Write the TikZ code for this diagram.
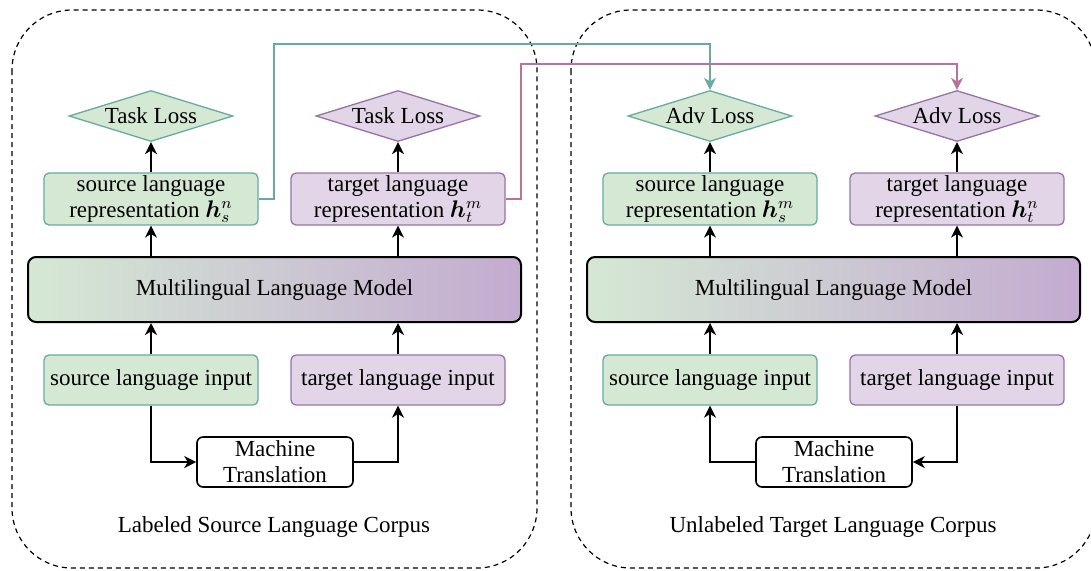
\documentclass[tikz,border=0pt]{standalone}
\usepackage{fontspec}
\setmainfont{Liberation Serif}
\usepackage{bm}
\usetikzlibrary{arrows.meta, shapes.geometric}

\definecolor{srcfill}{HTML}{D5E8D4}
\definecolor{srcdraw}{HTML}{67AB9F}
\definecolor{tgtfill}{HTML}{E1D5E7}
\definecolor{tgtdraw}{HTML}{9673A6}
\definecolor{tgtline}{HTML}{B5739D}
\definecolor{mlmright}{HTML}{C3ABD0}

\begin{document}
\begin{tikzpicture}[x=0.5pt, y=-0.5pt,
	font=\fontsize{11.5}{13}\selectfont,
	box/.style={rounded corners=2.5pt, line width=0.65pt, minimum width=107pt, minimum height=25pt, align=center, inner sep=1pt},
	srcbox/.style={box, draw=srcdraw, fill=srcfill},
	tgtbox/.style={box, draw=tgtdraw, fill=tgtfill},
	loss/.style={diamond, aspect=3.2, minimum width=82pt, minimum height=25.5pt, inner sep=0pt, line width=0.65pt},
	mlm/.style={draw, line width=1pt, rounded corners=4pt, left color=srcfill, right color=mlmright, minimum width=246.5pt, minimum height=32.5pt},
	mt/.style={draw, fill=white, line width=0.8pt, rounded corners=3pt, minimum width=78pt, minimum height=25pt, align=center, inner sep=1pt},
	corpus/.style={draw, dash pattern=on 2.5pt off 2pt, line width=0.6pt, rounded corners=30pt},
	arr/.style={-{Stealth[length=6pt, width=6pt, inset=1.8pt]}, line width=0.75pt},
	link/.style={-{Stealth[length=6pt, width=6pt, inset=1.8pt]}, line width=0.65pt}]

	\useasboundingbox (0, 0) rectangle (1091, 570);

	% corpora
	\draw[corpus] (12, 10) rectangle (537, 568);
	\draw[corpus] (571, 10) rectangle (1096, 568);

	% labeled side
	\node[loss, draw=srcdraw, fill=srcfill] (taskS) at (151, 116) {Task Loss};
	\node[loss, draw=tgtdraw, fill=tgtfill] (taskT) at (398, 116) {Task Loss};
	\node[srcbox] (repSL) at (151, 199) {source language\\representation $\bm{h}_s^n$};
	\node[tgtbox] (repTL) at (398, 199) {target language\\representation $\bm{h}_t^m$};
	\node[mlm] (mlmL) at (274.5, 289.5) {Multilingual Language Model};
	\node[srcbox] (inSL) at (151, 380) {source language input};
	\node[tgtbox] (inTL) at (398, 380) {target language input};
	\node[mt] (mtL) at (275, 462) {Machine\\Translation};
	\node (corpL) at (274, 527) {Labeled Source Language Corpus};

	% unlabeled side
	\node[loss, draw=srcdraw, fill=srcfill] (advS) at (710, 116) {Adv Loss};
	\node[loss, draw=tgtdraw, fill=tgtfill] (advT) at (957, 116) {Adv Loss};
	\node[srcbox] (repSR) at (710, 199) {source language\\representation $\bm{h}_s^m$};
	\node[tgtbox] (repTR) at (957, 199) {target language\\representation $\bm{h}_t^n$};
	\node[mlm] (mlmR) at (833.5, 289.5) {Multilingual Language Model};
	\node[srcbox] (inSR) at (710, 380) {source language input};
	\node[tgtbox] (inTR) at (957, 380) {target language input};
	\node[mt] (mtR) at (834, 462) {Machine\\Translation};
	\node (corpR) at (833, 527) {Unlabeled Target Language Corpus};

	% up the stacks
	\foreach \r/\l/\m/\i in {repSL/taskS/mlmL/inSL, repTL/taskT/mlmL/inTL, repSR/advS/mlmR/inSR, repTR/advT/mlmR/inTR} {
		\draw[arr] (\r.north) -- (\l.south);
		\draw[arr] (\m.north -| \r.north) -- (\r.south);
		\draw[arr] (\i.north) -- (\i.north |- \m.south);
	}

	% translation
	\draw[arr] (inSL.south) |- (mtL.west);
	\draw[arr] (mtL.east) -| (inTL.south);
	\draw[arr] (mtR.west) -| (inSR.south);
	\draw[arr] (inTR.south) |- (mtR.east);

	% adversarial links
	\coordinate (gbend) at (274, 44);
	\coordinate (pbend) at (521, 64);
	\draw[link, srcdraw] (repSL.east) -| (gbend) -| (advS.north);
	\draw[link, tgtline] (repTL.east) -| (pbend) -| (advT.north);
\end{tikzpicture}
\end{document}
